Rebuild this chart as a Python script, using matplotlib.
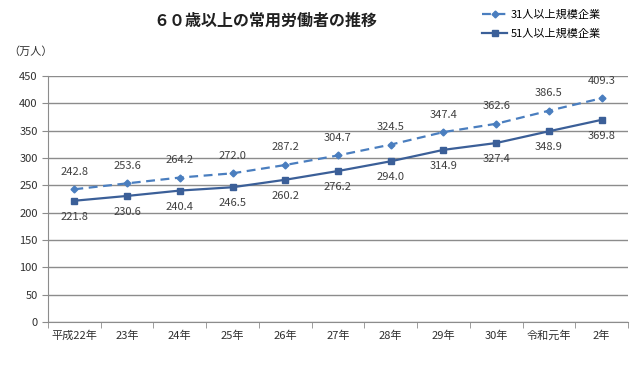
import matplotlib
matplotlib.use("Agg")
import matplotlib.pyplot as plt
import numpy as np

plt.rcParams['font.family'] = ['Noto Sans CJK JP', 'DejaVu Sans']

# ---- datos
nendo = ["平成22年", "23年", "24年", "25年", "26年", "27年", "28年", "29年", "30年", "令和元年", "2年"]
kigyo31 = [242.8, 253.6, 264.2, 272.0, 287.2, 304.7, 324.5, 347.4, 362.6, 386.5, 409.3]
kigyo51 = [221.8, 230.6, 240.4, 246.5, 260.2, 276.2, 294.0, 314.9, 327.4, 348.9, 369.8]

c31 = '#4a7ebf'
c51 = '#3b5f98'
gris = '#8c8c8c'

fig = plt.figure(figsize=(6.35, 3.66), dpi=100)
ax = fig.add_axes([48/635, 1-322/366, 580/635, 246/366])

x = np.arange(len(nendo))
ax.plot(x, kigyo31, color=c31, lw=1.6, ls=(0, (4, 2.5)), marker='D', ms=3.5, label='31人以上規模企業')
ax.plot(x, kigyo51, color=c51, lw=1.6, marker='s', ms=4.5, label='51人以上規模企業')

for i in x:
    ax.annotate(f"{kigyo31[i]:.1f}", (i, kigyo31[i]), xytext=(0, 9), textcoords='offset points',
                ha='center', va='bottom', fontsize=8, color='#404040')
    ax.annotate(f"{kigyo51[i]:.1f}", (i, kigyo51[i]), xytext=(0, -8), textcoords='offset points',
                ha='center', va='top', fontsize=8, color='#404040')

ax.set_xlim(-0.5, len(nendo) - 0.5)
ax.set_ylim(0, 450)
ax.set_yticks(np.arange(0, 451, 50))
ax.yaxis.grid(True, color=gris, lw=1)
ax.set_axisbelow(True)
ax.set_xticks(x)
ax.set_xticklabels(nendo, fontsize=8, color='#303030')
ax.set_xticks(np.arange(-0.5, len(nendo)), minor=True)
ax.tick_params(axis='x', which='major', length=0, pad=6)
ax.tick_params(axis='x', which='minor', length=4, color=gris, direction='out')
ax.tick_params(axis='y', length=4, color=gris, labelsize=8, labelcolor='#303030')
for s in ['top', 'right']:
    ax.spines[s].set_visible(False)
ax.spines['left'].set_color(gris)
ax.spines['bottom'].set_color(gris)

fig.text(8/635, 1-52/366, '（万人）', fontsize=8, color='#303030', va='center')
fig.text(265/635, 1-21/366, '６０歳以上の常用労働者の推移', fontsize=11.5, weight='bold',
         ha='center', va='center', color='#202020')
fig.legend(loc='upper left', bbox_to_anchor=(478/635, 1-5/366), frameon=False, fontsize=8,
           handlelength=2.2, handletextpad=0.3, labelspacing=0.8, borderaxespad=0)

plt.savefig("out.png", dpi=100)
